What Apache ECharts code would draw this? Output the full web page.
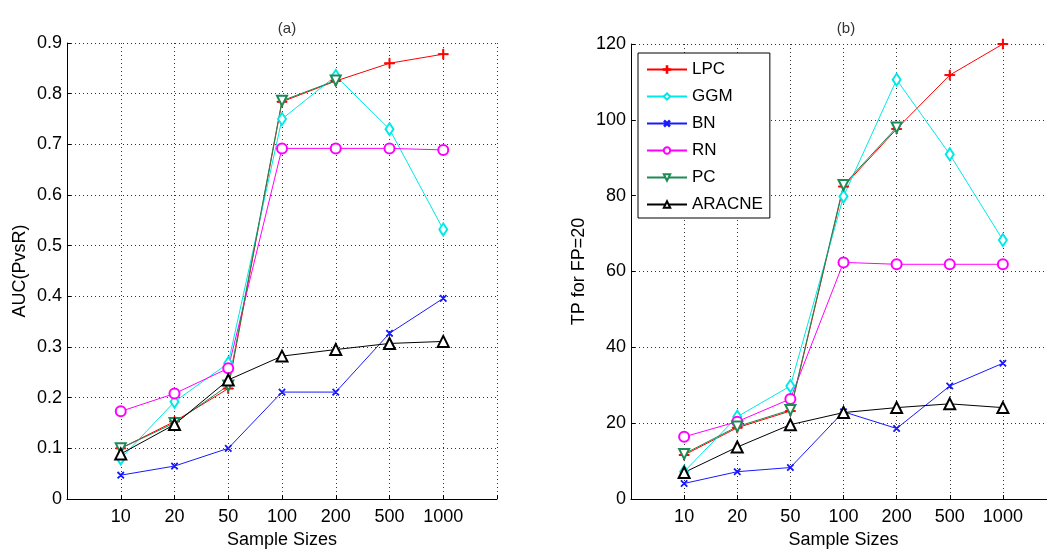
<!DOCTYPE html>
<html>
<head>
<meta charset="utf-8">
<script src="https://cdn.jsdelivr.net/npm/echarts@6/dist/echarts.min.js"></script>
<style>
html,body{margin:0;padding:0;background:#fff;}
#chart{width:1047px;height:550px;}
</style>
</head>
<body>
<div id="chart"></div>
<script>
// ---- data ----
var categories = ['10', '20', '50', '100', '200', '500', '1000'];
var seriesNames = ['LPC', 'GGM', 'BN', 'RN', 'PC', 'ARACNE'];

// Panel (a): AUC(PvsR)
var aLPC    = [0.100, 0.153, 0.218, 0.784, 0.825, 0.860, 0.878];
var aGGM    = [0.080, 0.192, 0.268, 0.750, 0.835, 0.730, 0.532];
var aBN     = [0.047, 0.065, 0.100, 0.211, 0.211, 0.327, 0.396];
var aRN     = [0.173, 0.208, 0.258, 0.692, 0.692, 0.692, 0.689];
var aPC     = [0.100, 0.150, 0.224, 0.786, 0.826];
var aARACNE = [0.089, 0.147, 0.235, 0.282, 0.295, 0.307, 0.311];

// Panel (b): TP for FP=20
var bLPC    = [11.6, 18.8, 23.2, 82.4, 97.6, 111.8, 120.0];
var bGGM    = [7.2, 21.7, 29.8, 79.8, 110.6, 90.9, 68.3];
var bBN     = [4.1, 7.2, 8.3, 23.0, 18.6, 29.8, 35.8];
var bRN     = [16.4, 20.4, 26.4, 62.4, 61.9, 61.9, 61.9];
var bPC     = [11.9, 19.1, 23.5, 82.8, 98.0];
var bARACNE = [7.0, 13.7, 19.6, 22.8, 24.1, 25.1, 24.1];

var aTicks = [0, 0.1, 0.2, 0.3, 0.4, 0.5, 0.6, 0.7, 0.8, 0.9];
var bTicks = [0, 20, 40, 60, 80, 100, 120];

// ---- styles ----
var FONT = '"Liberation Sans", Arial, sans-serif';
var styles = {
  LPC:    {color: '#ff0000', symbol: 'path://M4.5,0h1v10h-1z M0,4.5h10v1h-10z', size: 10, rotate: 0},
  GGM:    {color: '#00e8e8', symbol: 'emptyDiamond', size: [8, 12], rotate: 0},
  BN:     {color: '#1a1aff', symbol: 'path://M4.5,0h1v10h-1z M0,4.5h10v1h-10z', size: 8, rotate: 45},
  RN:     {color: '#ff00ff', symbol: 'emptyCircle', size: 10, rotate: 0},
  PC:     {color: '#1e8a55', symbol: 'emptyTriangle', size: 10, rotate: 180},
  ARACNE: {color: '#000000', symbol: 'emptyTriangle', size: 11, rotate: 0}
};

function toPoints(arr) {
  return arr.map(function (v, i) { return [i + 1, v]; });
}

function mkSeries(name, arr, idx) {
  var s = styles[name];
  return {
    name: name,
    type: 'line',
    xAxisIndex: idx,
    yAxisIndex: idx,
    data: toPoints(arr),
    symbol: s.symbol,
    symbolSize: s.size,
    symbolRotate: s.rotate,
    showAllSymbol: true,
    lineStyle: {color: s.color, width: 1},
    itemStyle: {color: s.color, borderColor: s.color, borderWidth: 1},
    emphasis: {disabled: true},
    z: 3
  };
}

var dotted = {type: [1, 3], color: '#333', width: 1};

function xAxis(gridIndex) {
  return {
    type: 'value', gridIndex: gridIndex, min: 0, max: 8, interval: 1,
    name: 'Sample Sizes', nameLocation: 'middle', nameGap: 31,
    nameTextStyle: {fontFamily: FONT, fontSize: 18, color: '#000'},
    axisLine: {show: true, lineStyle: {color: '#000', width: 1}},
    axisTick: {show: true, inside: true, length: 4, lineStyle: {color: '#000'}},
    axisLabel: {
      fontFamily: FONT, fontSize: 18, color: '#000', margin: 9,
      formatter: function (v) { return (v >= 1 && v <= 7) ? categories[v - 1] : ''; }
    },
    splitLine: {show: true, lineStyle: dotted}
  };
}

function yAxis(gridIndex, name, ticks, gap, fmt) {
  return {
    type: 'value', gridIndex: gridIndex,
    min: ticks[0], max: ticks[ticks.length - 1], interval: ticks[1] - ticks[0],
    name: name, nameLocation: 'middle', nameRotate: 90, nameGap: gap,
    nameTextStyle: {fontFamily: FONT, fontSize: 18, color: '#000'},
    axisLine: {show: true, lineStyle: {color: '#000', width: 1}},
    axisTick: {show: true, inside: true, length: 4, lineStyle: {color: '#000'}},
    axisLabel: {fontFamily: FONT, fontSize: 18, color: '#000', margin: 5, formatter: fmt},
    splitLine: {show: true, lineStyle: dotted}
  };
}

var series = [];
[aLPC, aGGM, aBN, aRN, aPC, aARACNE].forEach(function (arr, i) { series.push(mkSeries(seriesNames[i], arr, 0)); });
[bLPC, bGGM, bBN, bRN, bPC, bARACNE].forEach(function (arr, i) { series.push(mkSeries(seriesNames[i], arr, 1)); });

var option = {
  animation: false,
  backgroundColor: '#fff',
  title: [
    {text: '(a)', left: 282, top: 16, textAlign: 'center',
     textStyle: {fontFamily: FONT, fontSize: 15, fontWeight: 'normal', color: '#333'}},
    {text: '(b)', left: 841, top: 16, textAlign: 'center',
     textStyle: {fontFamily: FONT, fontSize: 15, fontWeight: 'normal', color: '#333'}}
  ],
  grid: [
    {left: 67, top: 43, width: 430, height: 456, containLabel: false, outerBoundsMode: 'none'},
    {left: 631, top: 44, width: 425, height: 455, containLabel: false, outerBoundsMode: 'none'}
  ],
  legend: {
    data: seriesNames,
    orient: 'vertical',
    left: 638, top: 53,
    padding: [8, 7, 5, 8],
    itemWidth: 40, itemHeight: 8, itemGap: 10,
    itemTextGap: 3,
    backgroundColor: '#fff',
    borderColor: '#000', borderWidth: 1, borderRadius: 0,
    selectedMode: false,
    textStyle: {fontFamily: FONT, fontSize: 17, color: '#000', lineHeight: 17}
  },
  xAxis: [xAxis(0), xAxis(1)],
  yAxis: [
    yAxis(0, 'AUC(PvsR)', aTicks, 38, function (v) { return v === 0 ? '0' : v.toFixed(1); }),
    yAxis(1, 'TP for FP=20', bTicks, 43, function (v) { return String(v); })
  ],
  series: series
};

var chart = echarts.init(document.getElementById('chart'), null, {renderer: 'canvas'});
chart.setOption(option);
</script>
</body>
</html>
